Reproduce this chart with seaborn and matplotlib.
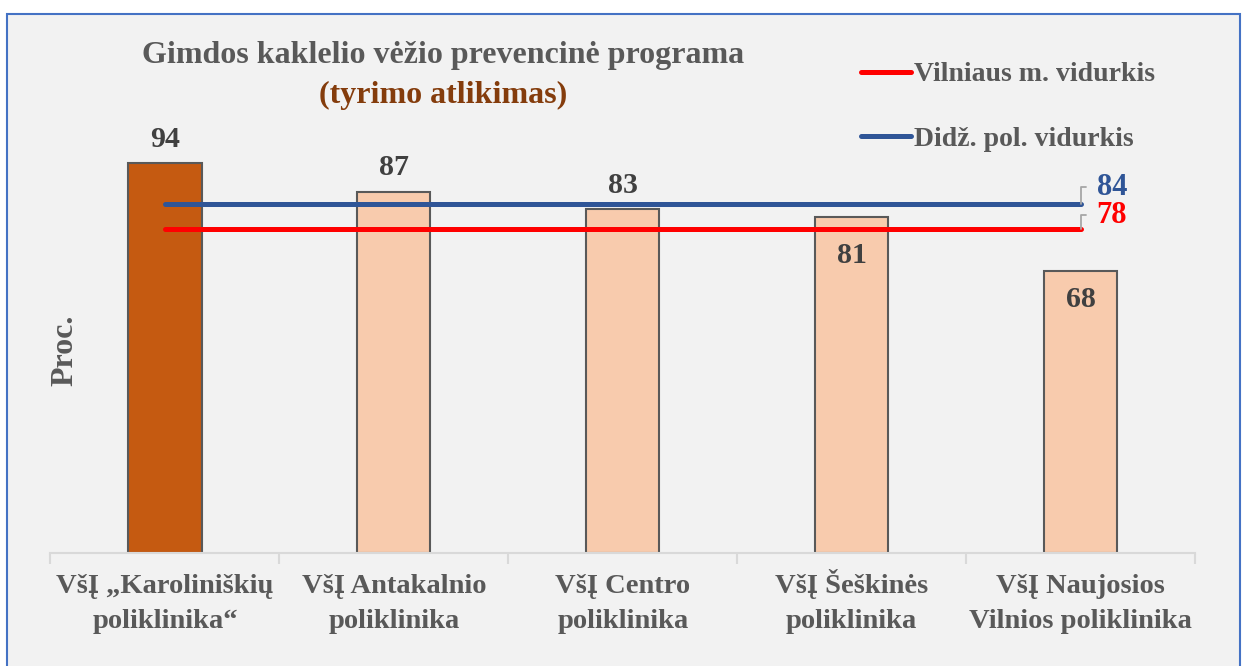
import matplotlib
matplotlib.use("Agg")
import matplotlib.pyplot as plt
import seaborn as sns
from matplotlib.patches import Rectangle

# data
categories = [
    "VšĮ „Karoliniškių\npoliklinika“",
    "VšĮ Antakalnio\npoliklinika",
    "VšĮ Centro\npoliklinika",
    "VšĮ Šeškinės\npoliklinika",
    "VšĮ Naujosios\nVilnios poliklinika",
]
values = [94, 87, 83, 81, 68]
vilnius_avg = 78
didz_avg = 84

# label offsets (points) relative to bar tops: positive above, negative inside
label_offsets = [16.5, 17.5, 16.5, -28, -21]

bar_colors = ["#C55A11", "#F8CBAD", "#F8CBAD", "#F8CBAD", "#F8CBAD"]
TXT = "#595959"
NUM = "#404040"
RED = "#FF0000"
BLUE = "#2F5597"

sns.set_theme(style="white")
plt.rcParams["font.family"] = ["Liberation Serif", "DejaVu Serif"]
plt.rcParams["font.weight"] = "bold"

fig = plt.figure(figsize=(12.45, 6.66), dpi=100)
fig.patch.set_facecolor("white")
# light grey panel with blue frame
fig.patches.append(Rectangle((7 / 1245, -0.02), 1233 / 1245, 1 - 14 / 666 + 0.02,
                             transform=fig.transFigure, facecolor="#F2F2F2",
                             edgecolor="#4472C4", linewidth=1.5, zorder=-5))

ax = fig.add_axes([50.5 / 1245, 1 - 553 / 666, (1195 - 50.5) / 1245, 415 / 666])
ax.set_facecolor("none")
ax.set_zorder(1)

sns.barplot(x=categories, y=values, hue=categories, palette=bar_colors,
            saturation=1, width=0.32, edgecolor="#595959", linewidth=1.5,
            legend=False, ax=ax, zorder=2)

ax.set_ylim(0, 100)
ax.set_xlim(-0.5, len(categories) - 0.5)

# average lines
xs = [0, len(categories) - 1]
ax.plot(xs, [didz_avg] * 2, color=BLUE, lw=3.6, solid_capstyle="round",
        zorder=3, label="Didž. pol. vidurkis")
ax.plot(xs, [vilnius_avg] * 2, color=RED, lw=3.6, solid_capstyle="round",
        zorder=3, label="Vilniaus m. vidurkis")

for val, col, dy in [(didz_avg, BLUE, 12.5), (vilnius_avg, RED, 10)]:
    ax.annotate(str(val), xy=(xs[1], val), xytext=(11.5, dy),
                textcoords="offset points", ha="left", va="center",
                fontsize=22, fontweight="bold", color=col,
                arrowprops=dict(arrowstyle="-", color="#A6A6A6", lw=1.3,
                                connectionstyle="angle,angleA=0,angleB=90,rad=0",
                                shrinkA=5, shrinkB=0))

# bar value labels
for i, (v, off) in enumerate(zip(values, label_offsets)):
    ax.annotate(str(v), xy=(i, v), xytext=(0, off), textcoords="offset points",
                ha="center", va="center", fontsize=21.5, fontweight="bold",
                color=NUM, zorder=4)

# axes styling
for s in ["top", "right", "left"]:
    ax.spines[s].set_visible(False)
ax.spines["bottom"].set_color("#D9D9D9")
ax.spines["bottom"].set_linewidth(1.5)
ax.set_yticks([])
ax.set_xticks([i - 0.5 for i in range(len(categories) + 1)], minor=True)
ax.tick_params(axis="x", which="minor", length=8, width=1.5, color="#D9D9D9",
               direction="out", bottom=True)
ax.tick_params(axis="x", which="major", length=0, pad=54, labelsize=20.5,
               labelcolor=TXT)
for lab in ax.get_xticklabels():
    lab.set_fontweight("bold")
    lab.set_verticalalignment("baseline")
    lab.set_linespacing(1.55)
ax.set_xlabel("")
ax.set_ylabel("Proc.", fontsize=23, fontweight="bold", color=TXT)
ax.yaxis.set_label_coords((79 - 50.5) / 1144.5, (553 - 350) / 415)

# title
fig.text(443 / 1245, 1 - 55 / 666, "Gimdos kaklelio vėžio prevencinė programa",
         ha="center", va="center", fontsize=23, fontweight="bold", color=TXT)
fig.text(443 / 1245, 1 - 95 / 666, "(tyrimo atlikimas)",
         ha="center", va="center", fontsize=23, fontweight="bold", color="#843C0C")

# legend (red first as in the reference)
handles, labels = ax.get_legend_handles_labels()
leg = fig.legend(handles[::-1], labels[::-1], loc="upper left",
                 bbox_to_anchor=(836 / 1245, 1 - 37 / 666), frameon=False,
                 handlelength=1.8, handletextpad=0.12,
                 labelspacing=1.4, prop={"weight": "bold", "size": 20})
for t in leg.get_texts():
    t.set_color(TXT)

fig.savefig("out.png", dpi=100)
